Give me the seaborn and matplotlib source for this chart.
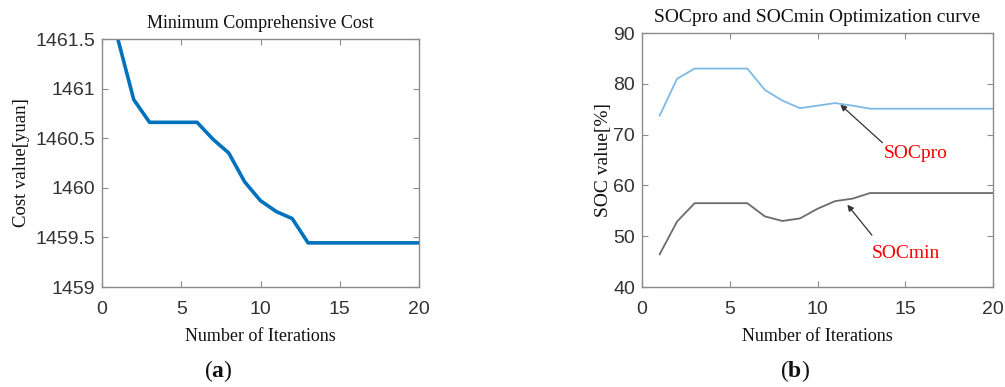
import matplotlib
matplotlib.use("Agg")
import matplotlib.pyplot as plt
import seaborn as sns
import pandas as pd

# Iteration index shared by both panels
iterations = list(range(1, 21))

# Panel (a): minimum comprehensive cost per iteration [yuan]
cost = [1461.50, 1460.89, 1460.66, 1460.66, 1460.66, 1460.66, 1460.49, 1460.35,
        1460.06, 1459.87, 1459.76, 1459.69, 1459.445, 1459.445, 1459.445,
        1459.445, 1459.445, 1459.445, 1459.445, 1459.445]

# Panel (b): SOC optimisation curves [%]
soc_pro = [73.7, 81.0, 83.0, 83.0, 83.0, 83.0, 78.8, 76.7, 75.2, 75.7,
           76.2, 75.7, 75.1, 75.1, 75.1, 75.1, 75.1, 75.1, 75.1, 75.1]
soc_min = [46.4, 52.9, 56.5, 56.5, 56.5, 56.5, 53.9, 53.0, 53.5, 55.4,
           56.9, 57.4, 58.5, 58.5, 58.5, 58.5, 58.5, 58.5, 58.5, 58.5]

sns.set_theme(style="white")
plt.rcParams["font.family"] = ["Liberation Sans", "DejaVu Sans"]
plt.rcParams["mathtext.fontset"] = "custom"
plt.rcParams["mathtext.rm"] = "Liberation Serif"
plt.rcParams["mathtext.bf"] = "Liberation Serif:bold"

SERIF = "Liberation Serif"
TICK_COLOR = "#333333"
SPINE_COLOR = "#8c8c8c"

fig = plt.figure(figsize=(10.05, 3.87), dpi=100)
W, H = 1005, 387
ax1 = fig.add_axes([102 / W, 1 - 287 / H, 317 / W, 248 / H])
ax2 = fig.add_axes([642 / W, 1 - 287 / H, 351 / W, 254 / H])

df_cost = pd.DataFrame({"iter": iterations, "cost": cost})
sns.lineplot(data=df_cost, x="iter", y="cost", ax=ax1, color="#0072BD", lw=2.6)

df_soc = pd.DataFrame({"iter": iterations, "pro": soc_pro, "min": soc_min})
sns.lineplot(data=df_soc, x="iter", y="pro", ax=ax2, color="#7DB9E5", lw=1.3)
sns.lineplot(data=df_soc, x="iter", y="min", ax=ax2, color="#6b6b6b", lw=1.3)


def style_axes(ax):
    for s in ax.spines.values():
        s.set_visible(True)
        s.set_color(SPINE_COLOR)
        s.set_linewidth(1.0)
    ax.tick_params(direction="in", length=4, width=0.8, color=SPINE_COLOR,
                   labelcolor=TICK_COLOR, labelsize=14, top=True, right=True,
                   bottom=True, left=True, pad=5)
    ax.tick_params(axis="x", pad=10)
    ax.set_xlim(0, 20)
    ax.set_xticks([0, 5, 10, 15, 20])
    ax.grid(False)


style_axes(ax1)
ax1.set_ylim(1459, 1461.5)
ax1.set_yticks([1459, 1459.5, 1460, 1460.5, 1461, 1461.5])
ax1.set_yticklabels(["1459", "1459.5", "1460", "1460.5", "1461", "1461.5"])
ax1.set_title("Minimum Comprehensive Cost", family=SERIF, fontsize=13, pad=8,
              color="#111111")
ax1.set_xlabel("Number of Iterations", family=SERIF, fontsize=13, color="#111111",
               labelpad=7)
ax1.set_ylabel("Cost value[yuan]", family=SERIF, fontsize=13.5, color="#111111",
               labelpad=4)

style_axes(ax2)
ax2.set_ylim(40, 90)
ax2.set_yticks([40, 50, 60, 70, 80, 90])
ax2.set_title("SOCpro and SOCmin Optimization curve", family=SERIF, fontsize=14,
              pad=8, color="#111111")
ax2.set_xlabel("Number of Iterations", family=SERIF, fontsize=13, color="#111111",
               labelpad=7)
ax2.set_ylabel("SOC value[%]", family=SERIF, fontsize=14, color="#111111",
               labelpad=1)

arrow = dict(arrowstyle="-|>", color="#333333", lw=0.9, mutation_scale=9,
             shrinkA=0, shrinkB=0)
ax2.annotate("", xy=(11.3, 75.9), xytext=(13.7, 68.4), arrowprops=arrow)
ax2.text(13.8, 66.3, "SOCpro", color="red", family=SERIF, fontsize=14,
         ha="left", va="center")
ax2.annotate("", xy=(11.7, 56.2), xytext=(13.1, 50.2), arrowprops=arrow)
ax2.text(13.1, 46.5, "SOCmin", color="red", family=SERIF, fontsize=14,
         ha="left", va="center")

fig.text(218 / W, 1 - 371 / H, r"($\mathbf{a}$)", family=SERIF, fontsize=17,
         ha="center", va="center", color="#111111")
fig.text(795 / W, 1 - 371 / H, r"($\mathbf{b}$)", family=SERIF, fontsize=17,
         ha="center", va="center", color="#111111")

fig.savefig("out.png", dpi=100, facecolor="white")
